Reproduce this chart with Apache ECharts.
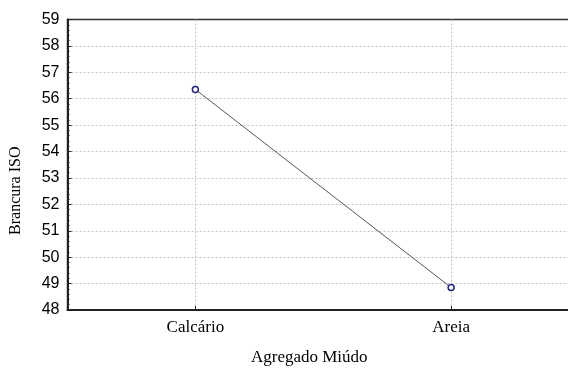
<!DOCTYPE html>
<html>
<head>
<meta charset="utf-8">
<script src="https://cdn.jsdelivr.net/npm/echarts@6/dist/echarts.min.js"></script>
<style>
  html, body { margin: 0; padding: 0; background: #fff; overflow: hidden; }
  #chart { width: 568px; height: 368px; }
</style>
</head>
<body>
<div id="chart"></div>
<script>
// Fine aggregate type vs. ISO brightness
const categories = ['Calcário', 'Areia'];
const brightness = [56.35, 48.85];
const yMin = 48;
const yMax = 59;
const yStep = 1;

const serif = '"Liberation Serif", "Times New Roman", serif';
const sans = '"Liberation Sans", Arial, sans-serif';

const chart = echarts.init(document.getElementById('chart'), null, { renderer: 'canvas' });

chart.setOption({
  animation: false,
  backgroundColor: '#ffffff',
  grid: {
    left: 67.5,
    top: 19.5,
    width: 511.5,
    height: 290.5,
    show: true,
    borderColor: '#333',
    borderWidth: 1.5,
    outerBoundsMode: 'none',
    containLabel: false
  },
  xAxis: {
    type: 'category',
    data: categories,
    boundaryGap: true,
    name: 'Agregado Miúdo',
    nameLocation: 'middle',
    nameGap: 39,
    nameTextStyle: {
      fontFamily: serif,
      fontSize: 17,
      color: '#000',
      padding: [0, 28, 0, 0]
    },
    axisLine: { show: true, lineStyle: { color: '#222', width: 2 } },
    axisTick: { show: true, inside: true, alignWithLabel: true, length: 4, lineStyle: { color: '#222' } },
    axisLabel: { fontFamily: serif, fontSize: 17, color: '#000', margin: 9 },
    splitLine: {
      show: true,
      alignWithLabel: true,
      lineStyle: { color: '#c4c4c4', type: [2, 2], width: 1 }
    }
  },
  yAxis: {
    type: 'value',
    min: yMin,
    max: yMax,
    interval: yStep,
    name: 'Brancura ISO',
    nameLocation: 'middle',
    nameRotate: 90,
    nameGap: 44,
    nameTextStyle: {
      fontFamily: serif,
      fontSize: 16,
      color: '#000',
      padding: [0, 52, 0, 0]
    },
    axisLine: { show: true, lineStyle: { color: '#222', width: 2 } },
    axisTick: { show: true, inside: true, length: 4, lineStyle: { color: '#222' } },
    minorTick: { show: true, splitNumber: 5, length: 2, lineStyle: { color: '#222' } },
    axisLabel: { fontFamily: sans, fontSize: 16, color: '#000', margin: 8 },
    splitLine: {
      show: true,
      showMinLine: false,
      showMaxLine: false,
      lineStyle: { color: '#c4c4c4', type: [2, 2], width: 1 }
    }
  },
  series: [{
    type: 'line',
    data: brightness,
    symbol: 'circle',
    symbolSize: 6,
    showSymbol: true,
    lineStyle: { color: '#555', width: 1 },
    itemStyle: { color: '#fff', borderColor: '#23237a', borderWidth: 1.5 }
  }]
});
</script>
</body>
</html>
